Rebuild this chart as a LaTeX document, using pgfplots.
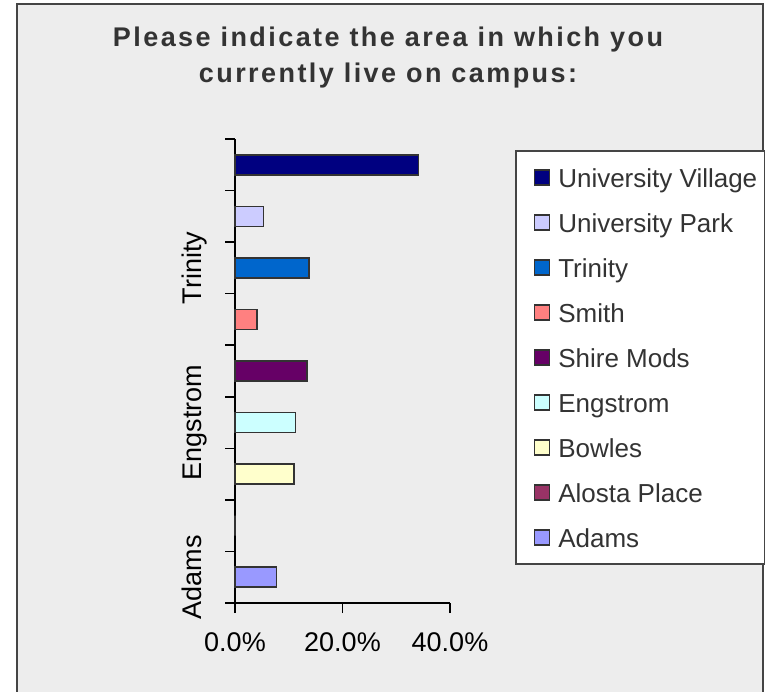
\documentclass[border=0pt]{standalone}
\usepackage{fontspec}
\setmainfont{Liberation Sans}
\newfontfamily\titlefont[LetterSpace=9]{Liberation Sans}
\usepackage{pgfplots}
\pgfplotsset{compat=1.18}
\definecolor{bg}{HTML}{EDEDED}
\definecolor{framec}{HTML}{454545}
\definecolor{txt}{HTML}{333333}
\definecolor{barline}{HTML}{333333}
\definecolor{cUV}{HTML}{000080}
\definecolor{cUP}{HTML}{CCCCFF}
\definecolor{cTR}{HTML}{0066CC}
\definecolor{cSM}{HTML}{FF8080}
\definecolor{cSH}{HTML}{660066}
\definecolor{cEN}{HTML}{CCFFFF}
\definecolor{cBO}{HTML}{FFFFCC}
\definecolor{cAL}{HTML}{993366}
\definecolor{cAD}{HTML}{9999FF}
\pgfplotsset{xbar legend/.style={legend image code/.code={\path (0pt,0pt); \draw[##1,/tikz/.cd] (5pt,-3.75pt) rectangle (12.5pt,3.75pt);}}}
\begin{document}
\begin{tikzpicture}
\fill[white] (0,0) rectangle (382.5pt,345.5pt);
\useasboundingbox (0,0) rectangle (382.5pt,345.5pt);
\filldraw[fill=bg, draw=framec, line width=1pt] (8.5pt,-5pt) rectangle (381.5pt,343.25pt);
\node[anchor=base, inner sep=0pt, text=txt, font=\titlefont\bfseries\fontsize{13.5pt}{16pt}\selectfont] at (194pt,322.15pt) {Please indicate the area in which you};
\node[anchor=base, inner sep=0pt, text=txt, font=\titlefont\bfseries\fontsize{13.5pt}{16pt}\selectfont] at (194pt,304.15pt) {currently live on campus:};
\begin{axis}[
  at={(117.5pt,44pt)}, anchor=south west,
  scale only axis, width=107.5pt, height=232pt,
  xbar, bar width=10pt, bar shift=0pt,
  xmin=0, xmax=40, ymin=0.5, ymax=9.5,
  axis lines*=left,
  axis line style={line width=0.8pt, black},
  xtick={0,20,40}, xticklabels={0.0\%,20.0\%,40.0\%},
  ytick={1,2,3,4,5,6,7,8,9}, yticklabels={Adams,,,Engstrom,,,Trinity,,},
  minor ytick={0.5,1.5,2.5,3.5,4.5,5.5,6.5,7.5,8.5,9.5},
  tick align=outside,
  major tick length=5pt, minor tick length=5pt,
  tick style={black, line width=0.8pt},
  every major y tick/.append style={draw=none},
  ticklabel style={font=\fontsize{13.5pt}{16pt}\selectfont, text=black},
  xticklabel style={anchor=base, yshift=-19pt},
  yticklabel style={xshift=-11.75pt, rotate=90, anchor=base},
  /pgf/number format/assume math mode=true,
  clip=false,
  every axis plot/.append style={draw=barline, line width=0.75pt, bar shift=0pt},
  legend cell align=left,
  legend style={at={(1.3023,0.9763)}, anchor=north west, draw=framec, line width=0.8pt, fill=white,
    inner xsep=4pt, inner ysep=8.6pt, row sep=13pt, column sep=4pt,
    font=\fontsize{13pt}{15pt}\selectfont, text=txt,
    nodes={inner sep=0pt, text height=9.5pt, text depth=0pt, anchor=west}},
]
\addplot[fill=cUV] coordinates {(34.1,9)};
\addlegendentry{University Village}
\addplot[fill=cUP] coordinates {(5.3,8)};
\addlegendentry{University Park}
\addplot[fill=cTR] coordinates {(13.8,7)};
\addlegendentry{Trinity}
\addplot[fill=cSM] coordinates {(4.1,6)};
\addlegendentry{Smith}
\addplot[fill=cSH] coordinates {(13.4,5)};
\addlegendentry{Shire Mods}
\addplot[fill=cEN] coordinates {(11.3,4)};
\addlegendentry{Engstrom}
\addplot[fill=cBO] coordinates {(11.0,3)};
\addlegendentry{Bowles}
\addplot[fill=cAL] coordinates {(0,2)};
\addlegendentry{Alosta Place}
\addplot[fill=cAD] coordinates {(7.7,1)};
\addlegendentry{Adams}
\end{axis}
\end{tikzpicture}
\end{document}
